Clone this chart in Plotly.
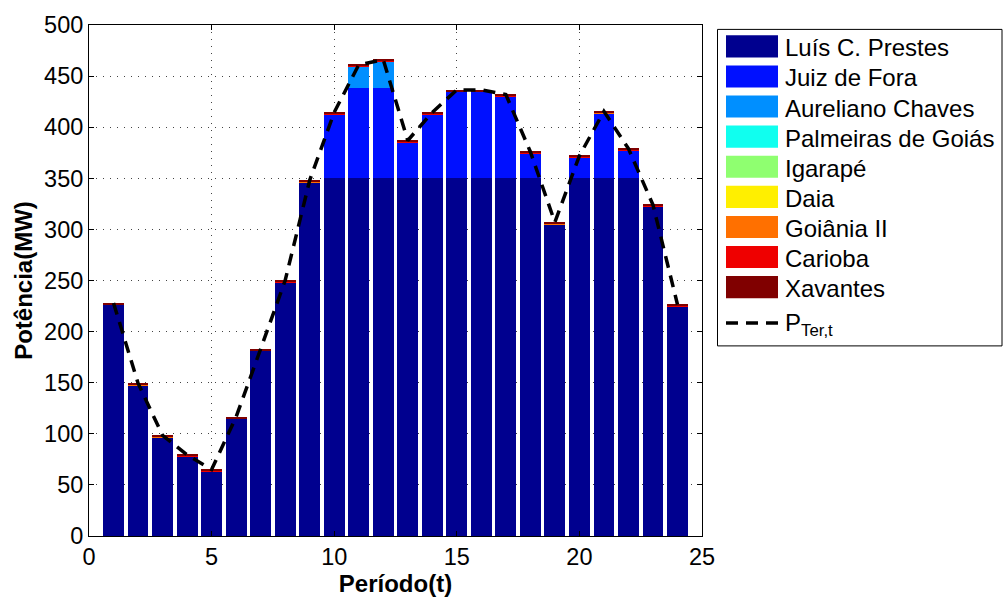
import plotly.graph_objects as go

# Período de despacho (horas)
periodos = list(range(1, 25))

# Usinas térmicas e cores (escala "jet")
usinas = ["Luís C. Prestes", "Juiz de Fora", "Aureliano Chaves", "Palmeiras de Goiás",
          "Igarapé", "Daia", "Goiânia II", "Carioba", "Xavantes"]
cores = ["#00008F", "#0010FF", "#008FFF", "#10FFEF", "#8FFF70",
         "#FFEF00", "#FF7000", "#EF0000", "#800000"]

# Geração por usina (MW)
luis_c_prestes = [226.2, 147.7, 96.7, 77.7, 63.2, 114.7, 181.2, 248.2, 346.2, 350.0, 350.0, 350.0,
                  350.0, 350.0, 350.0, 350.0, 350.0, 350.0, 305.2, 350.0, 350.0, 350.0, 322.2, 224.7]
juiz_de_fora = [0, 0, 0, 0, 0, 0, 0, 0, 0, 62.7, 88.5, 88.5,
                35.2, 62.7, 84.7, 84.7, 80.2, 24.2, 0, 20.2, 63.7, 27.2, 0, 0]
aureliano_chaves = [0, 0, 0, 0, 0, 0, 0, 0, 0, 0, 20.7, 25.7,
                    0, 0, 0, 0, 0, 0, 0, 0, 0, 0, 0, 0]
palmeiras_de_goias = [0] * 24
igarape = [0] * 24
daia = [0] * 24
goiania_ii = [0.2] * 24
carioba = [0.5] * 24
xavantes = [1.1] * 24

# Potência térmica total P_Ter,t (MW)
p_ter = [228.0, 149.5, 98.5, 79.5, 65.0, 116.5, 183.0, 250.0, 348.0, 414.5, 461.0, 466.0,
         387.0, 414.5, 436.5, 436.5, 432.0, 376.0, 307.0, 372.0, 415.5, 379.0, 324.0, 226.5]

geracao = [luis_c_prestes, juiz_de_fora, aureliano_chaves, palmeiras_de_goias,
           igarape, daia, goiania_ii, carioba, xavantes]

FONT = "Liberation Sans, Arial, Helvetica, sans-serif"

fig = go.Figure()
for nome, cor, valores in zip(usinas, cores, geracao):
    fig.add_trace(go.Bar(x=periodos, y=valores, name=nome, width=0.85,
                         marker=dict(color=cor, line=dict(width=0)),
                         showlegend=False))

fig.add_trace(go.Scatter(x=periodos, y=p_ter, mode="lines", name="P_Ter,t",
                         line=dict(color="black", width=3.5, dash="12px,8px"),
                         showlegend=False))

# Geometria da área do gráfico (px)
W, H = 1003, 601
L, R, T, B = 89, 702, 19.5, 541.5


def px_x(px):
    return (px - L) / (R - L)


def px_y(py):
    return (B - py) / (B - T)


shapes = []
annotations = []

# Caixa da legenda
shapes.append(dict(type="rect", xref="paper", yref="paper",
                   x0=px_x(717.5), x1=px_x(1002), y0=px_y(347.3), y1=px_y(24),
                   line=dict(color="black", width=1), fillcolor="white", layer="above"))

for i, (nome, cor) in enumerate(zip(usinas, cores)):
    yc = 41.3 + 30.75 * i
    shapes.append(dict(type="rect", xref="paper", yref="paper",
                       x0=px_x(726), x1=px_x(778), y0=px_y(yc + 11.3), y1=px_y(yc - 11.3),
                       line=dict(width=0), fillcolor=cor, layer="above"))
    annotations.append(dict(text=nome, xref="paper", yref="paper",
                            x=px_x(783), y=px_y(yc + 1.5), xanchor="left", yanchor="middle",
                            showarrow=False, font=dict(family=FONT, size=24, color="black")))

# Amostra da linha tracejada
shapes.append(dict(type="line", xref="paper", yref="paper",
                   x0=px_x(726), x1=px_x(778), y0=px_y(324), y1=px_y(324),
                   line=dict(color="black", width=3.5, dash="12px,8px"), layer="above"))
annotations.append(dict(text="P<sub>Ter,t</sub>", xref="paper", yref="paper",
                        x=px_x(783), y=px_y(325), xanchor="left", yanchor="middle",
                        showarrow=False, font=dict(family=FONT, size=24, color="black")))

axis_common = dict(showline=True, linecolor="black", linewidth=1, mirror="ticks",
                   ticks="inside", ticklen=5, tickcolor="black", tickwidth=1,
                   showgrid=True, gridcolor="#444444", gridwidth=1, griddash="1px,6px",
                   zeroline=False, tickfont=dict(family=FONT, size=23.5, color="black"))

fig.update_layout(
    width=W, height=H,
    margin=dict(l=L, r=W - R, t=T, b=H - B, pad=0),
    barmode="stack",
    bargap=0.15,
    plot_bgcolor="white",
    paper_bgcolor="white",
    font=dict(family=FONT, color="black"),
    xaxis=dict(range=[0, 25], tickvals=[0, 5, 10, 15, 20, 25],
               title=dict(text="<b>Período(t)</b>", font=dict(family=FONT, size=24), standoff=2),
               **axis_common),
    yaxis=dict(range=[0, 500], tickvals=list(range(0, 501, 50)),
               title=dict(text="<b>Potência(MW)</b>", font=dict(family=FONT, size=24), standoff=4),
               **axis_common),
    shapes=shapes,
    annotations=annotations,
)

fig.write_html("out.html")
